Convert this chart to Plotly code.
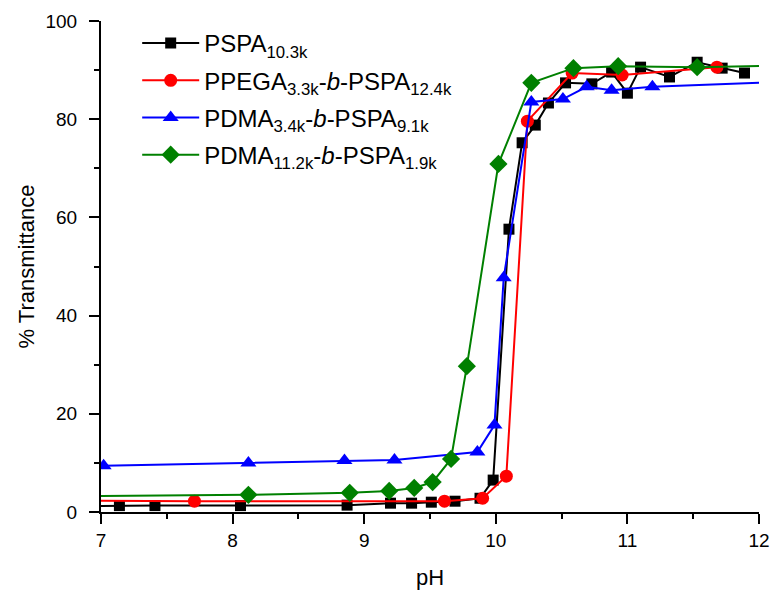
import plotly.graph_objects as go

# PSPA10.3k
pspa_x = [6.85, 7.14, 7.41, 8.06, 8.87, 9.20, 9.36, 9.51, 9.69, 9.88, 9.98, 10.10, 10.20, 10.30,
          10.40, 10.53, 10.73, 10.88, 11.00, 11.10, 11.32, 11.53, 11.72, 11.89]
pspa_y = [1.2, 1.3, 1.3, 1.3, 1.4, 1.8, 1.8, 2.0, 2.2, 2.8, 6.5, 57.6, 75.2, 78.8,
          83.3, 87.4, 87.2, 89.6, 85.3, 90.6, 88.6, 91.6, 90.4, 89.4]

# PPEGA3.3k-b-PSPA12.4k
ppega_x = [6.85, 7.71, 9.61, 9.90, 10.08, 10.24, 10.58, 10.96, 11.68]
ppega_y = [2.3, 2.2, 2.2, 2.8, 7.3, 79.6, 89.4, 89.0, 90.6]

# PDMA3.4k-b-PSPA9.1k
pdma34_x = [7.02, 8.12, 8.85, 9.23, 9.86, 9.99, 10.06, 10.27, 10.51, 10.69, 10.88, 11.19, 12.3]
pdma34_y = [9.4, 10.0, 10.5, 10.6, 12.2, 17.7, 47.7, 83.5, 84.1, 86.6, 85.9, 86.6, 87.7]

# PDMA11.2k-b-PSPA1.9k
pdma112_x = [6.85, 8.12, 8.89, 9.19, 9.38, 9.52, 9.66, 9.78, 10.02, 10.27, 10.59, 10.93, 11.53, 12.3]
pdma112_y = [3.2, 3.5, 3.9, 4.3, 4.9, 6.1, 10.8, 29.7, 70.9, 87.4, 90.4, 90.8, 90.6, 91.0]

names = [
    "PSPA<sub>10.3k</sub>",
    "PPEGA<sub>3.3k</sub>-<i>b</i>-PSPA<sub>12.4k</sub>",
    "PDMA<sub>3.4k</sub>-<i>b</i>-PSPA<sub>9.1k</sub>",
    "PDMA<sub>11.2k</sub>-<i>b</i>-PSPA<sub>1.9k</sub>",
]

series = [
    (pspa_x, pspa_y, "#000000", "square", 11),
    (ppega_x, ppega_y, "#ff0000", "circle", 13),
    (pdma34_x, pdma34_y, "#0000ff", "triangle-up", 14),
    (pdma112_x, pdma112_y, "#008000", "diamond", 14),
]

FONT = "Liberation Sans, Arial"

fig = go.Figure()
for i, (name, (xs, ys, col, sym, sz)) in enumerate(zip(names, series)):
    fig.add_trace(go.Scatter(
        x=xs, y=ys, name=name, mode="lines+markers",
        legendgroup=f"g{i}",
        line=dict(color=col, width=2),
        marker=dict(symbol=sym, size=sz, color=col),
    ))

axis_common = dict(
    showline=True, linecolor="black", linewidth=2,
    ticks="outside", ticklen=10, tickwidth=2, tickcolor="black",
    showgrid=False, zeroline=False, mirror=False, automargin=False,
    tickfont=dict(family=FONT, size=19, color="black"),
)

fig.update_xaxes(
    range=[7, 12], dtick=1, tick0=7,
    minor=dict(dtick=0.5, ticks="outside", ticklen=5, tickwidth=1.5, tickcolor="black"),
    title=dict(text="pH", font=dict(family=FONT, size=22, color="black"), standoff=20),
    **axis_common,
)
fig.update_yaxes(
    range=[0, 100], dtick=20, tick0=0,
    minor=dict(dtick=10, ticks="outside", ticklen=5, tickwidth=1.5, tickcolor="black"),
    title=dict(text="% Transmittance", font=dict(family=FONT, size=22, color="black"), standoff=5),
    ticklabelstandoff=8,
    **axis_common,
)

fig.update_layout(
    width=774, height=592,
    margin=dict(l=101, r=15, t=21, b=80),
    paper_bgcolor="white", plot_bgcolor="white",
    font=dict(family=FONT, color="black"),
    legend=dict(
        x=0.055, y=1.0, xanchor="left", yanchor="top",
        font=dict(family=FONT, size=24, color="black"),
        itemwidth=57, tracegroupgap=3,
        bgcolor="rgba(0,0,0,0)",
    ),
)

fig.write_html("out.html", config={"displayModeBar": False},
               post_script="document.body.style.margin='0';")
